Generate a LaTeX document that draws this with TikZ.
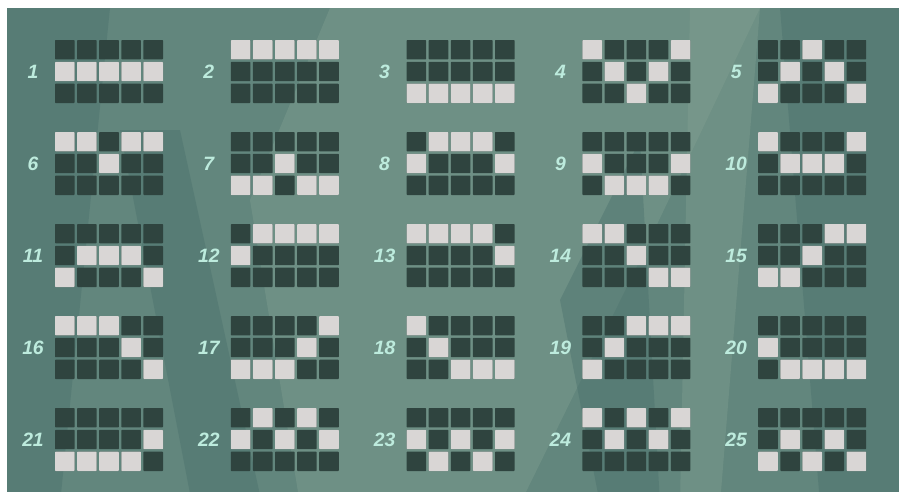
\documentclass[tikz,border=0pt]{standalone}
\usepackage{fontspec}
\setmainfont{Liberation Sans}
\definecolor{lineteal}{HTML}{62867D}
\definecolor{linetealdark}{HTML}{4B716D}
\definecolor{linetealpale}{HTML}{86A394}
\definecolor{lineink}{HTML}{2F443F}
\definecolor{linechalk}{HTML}{D9D6D5}
\definecolor{linemint}{HTML}{BDEBDD}
\tikzset{
  linecell/.style={fill=lineink, rounded corners=0.4pt},
  linehit/.style={fill=linechalk, rounded corners=0.4pt},
  linenum/.style={text=linemint, inner sep=0pt,
    font=\fontsize{11}{13}\selectfont\bfseries\itshape},
  linebeam/.style={fill=linetealpale, opacity=0.35},
  lineshade/.style={fill=linetealdark, opacity=0.45},
}
\begin{document}
\begin{tikzpicture}[x=0.02cm, y=-0.02cm]
  \useasboundingbox (0,0) rectangle (899,491);
  \fill[white] (0,0) rectangle (899,491);
  \fill[lineteal] (7,8) rectangle (912,504);
  % backdrop beams
  \fill[lineshade] (7,8) -- (110,8) -- (60,504) -- (7,504) -- cycle;
  \fill[linebeam] (330,8) -- (760,8) -- (640,260) -- (520,504) -- (300,504) -- (250,200) -- cycle;
  \fill[lineshade] (120,130) -- (180,130) -- (262,504) -- (192,504) -- cycle;
  \fill[lineshade] (560,300) -- (640,140) -- (660,504) -- (600,504) -- cycle;
  \fill[lineshade] (780,8) -- (912,8) -- (912,504) -- (820,504) -- cycle;
  \fill[linebeam] (690,8) -- (760,8) -- (720,504) -- (680,504) -- cycle;
  % paylines
  \foreach \n/\a/\b/\c/\d/\e in {
      1/1/1/1/1/1, 2/0/0/0/0/0, 3/2/2/2/2/2, 4/0/1/2/1/0, 5/2/1/0/1/2,
      6/0/0/1/0/0, 7/2/2/1/2/2, 8/1/0/0/0/1, 9/1/2/2/2/1, 10/0/1/1/1/0,
      11/2/1/1/1/2, 12/1/0/0/0/0, 13/0/0/0/0/1, 14/0/0/1/2/2, 15/2/2/1/0/0,
      16/0/0/0/1/2, 17/2/2/2/1/0, 18/0/1/2/2/2, 19/2/1/0/0/0, 20/1/2/2/2/2,
      21/2/2/2/2/1, 22/1/0/1/0/1, 23/1/2/1/2/1, 24/0/1/0/1/0, 25/2/1/2/1/2} {
    \pgfmathtruncatemacro{\gc}{mod(\n-1,5)}
    \pgfmathtruncatemacro{\gr}{div(\n-1,5)}
    \pgfmathsetmacro{\gx}{55+175.8*\gc}
    \pgfmathsetmacro{\gy}{40+92*\gr}
    \node[linenum] (num\n) at (\gx-22,\gy+31.5) {\n};
    \foreach \k/\r in {0/\a,1/\b,2/\c,3/\d,4/\e} {
      \foreach \j in {0,1,2}
        \fill[linecell] (\gx+22.1*\k,\gy+21.8*\j) rectangle ++(19.6,19.4);
      \fill[linehit] (\gx+22.1*\k,\gy+21.8*\r) rectangle ++(19.6,19.4);
    }
  }
\end{tikzpicture}
\end{document}
